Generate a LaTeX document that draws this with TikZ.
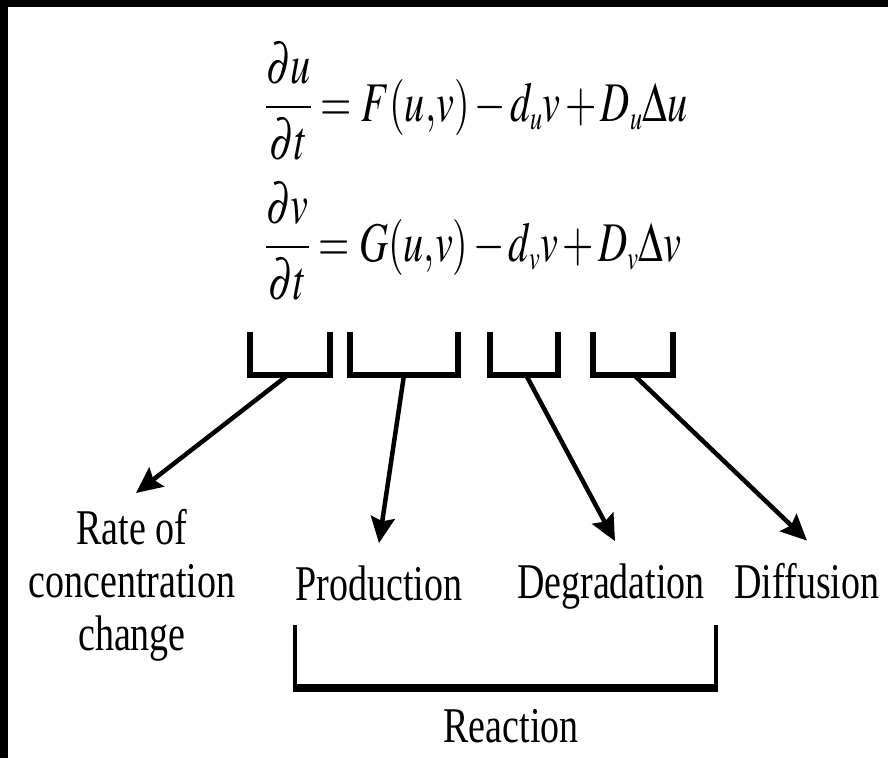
\documentclass[tikz,border=0pt]{standalone}
\usepackage{mathptmx}
\usepackage[no-math]{fontspec}
\setmainfont{Liberation Serif}[FakeStretch=0.76]
\usepackage{graphicx}
\usetikzlibrary{arrows.meta,calc}

\newcommand{\squeeze}[1]{\scalebox{0.72}[1]{#1}}
\newcommand{\sub}[1]{_{\scriptscriptstyle #1}}

\begin{document}
\begin{tikzpicture}[x=1pt,y=1pt,yscale=-1,
  lbl/.style={inner sep=0pt,font=\fontsize{50}{53}\selectfont,align=center},
  eqn/.style={inner sep=0pt,anchor=base west,font=\fontsize{56}{60}\selectfont},
  brk/.style={line width=6pt,line join=miter},
  arr/.style={line width=4.5pt,-{Stealth[length=26pt,width=24pt,inset=4pt]}}]

\useasboundingbox (0,0) rectangle (888,758);
\fill[black] (0,0) rectangle (888,7);
\fill[black] (0,0) rectangle (8,758);

% Equations
\node (equ) [eqn] at (265,121) {\squeeze{\medmuskip=2mu $\displaystyle\frac{\partial u}{\partial t}=F(u{,}v)-d\sub{u}v+D\sub{u}\Delta u$}};
\node (eqv) [eqn] at (265,261) {\squeeze{\medmuskip=2mu $\displaystyle\frac{\partial v}{\partial t}=G(u{,}v)-d\sub{v}v+D\sub{v}\Delta v$}};

% Brackets under the terms
\draw [brk] (250,332) -- (250,375) -- (330,375) -- (330,332);
\draw [brk] (350,332) -- (350,375) -- (458,375) -- (458,332);
\draw [brk] (490,332) -- (490,375) -- (558,375) -- (558,332);
\draw [brk] (593,332) -- (593,375) -- (673,375) -- (673,332);
\coordinate (b1) at (288,375);
\coordinate (b2) at (404,375);
\coordinate (b3) at (526,375);
\coordinate (b4) at (634,375);

% Text Node
\node (rate) [lbl,anchor=north] at (132,509) {Rate of\\concentration\\change};
\node (prod) [lbl,anchor=base] at (379,600) {Production};
\node (degr) [lbl,anchor=base] at (611,598) {Degradation};
\node (diff) [lbl,anchor=base] at (807,598) {Diffusion};
\node (reac) [lbl,anchor=base] at (511,742) {Reaction};

% Arrows
\draw [arr] (b1) -- ($(rate.north)+(4,-16)$);
\draw [arr] (b2) -- ($(prod.north)+(0,-22)$);
\draw [arr] (b3) -- ($(degr.north)+(4,-22)$);
\draw [arr] (b4) -- ($(diff.north)+(0,-22)$);

% Reaction bracket
\draw [line width=4pt] (295,625) -- (295,688) -- (716,688) -- (716,625);
\draw [line width=8pt] (293,688) -- (718,688);

\end{tikzpicture}
\end{document}
